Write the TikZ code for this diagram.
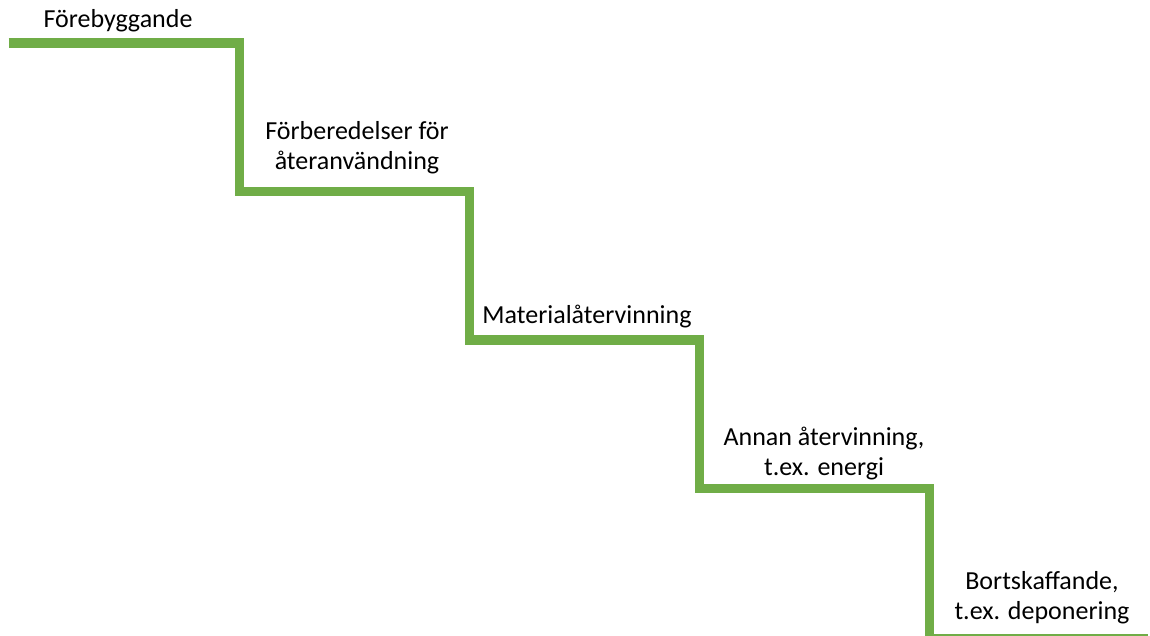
\documentclass[tikz,border=0pt]{standalone}
\usepackage{fontspec}
\setmainfont{Carlito}
\definecolor{trappgron}{RGB}{112,173,71}

\begin{document}
\begin{tikzpicture}[x=1pt, y=-1pt,
  trappa/.style={line width=9.5pt, trappgron},
  etikett/.style={font=\fontsize{26}{30}\selectfont, align=center, anchor=base, inner sep=0pt}]
  % parametrar (ett steg = bredd x höjd)
  \def\stegB{230}
  \def\stegH{148.5}

  \useasboundingbox (0,0) rectangle (1150,635);

  % 1. trappans hörn
  \coordinate (start) at (8.5, 43);
  \foreach \k in {1,...,3}
    \coordinate (k\k) at ({239.5+\stegB*(\k-1)}, {43+\stegH*\k});
  \coordinate (k4) at (929.5, 638.5); % sista steget, nästan utanför bilden
  \coordinate (slut) at (1148, 638.5);

  % 2. trappan
  \draw[trappa] (start) \foreach \k in {1,...,4} { -| (k\k) } -- (slut);

  % 3. texter på varje steg (base = sista radens baslinje)
  \node[etikett] (forebygg) at (118, 27.5) {Förebyggande};
  \node[etikett] (forbered) at (357, 169) {Förberedelser för\\återanvändning};
  \node[etikett] (material) at (587, 323) {Materialåtervinning};
  \node[etikett] (annan)    at (824, 475) {Annan återvinning,\\t.ex. energi};
  \node[etikett] (bortskaff) at (1042, 619) {Bortskaffande,\\t.ex. deponering};
\end{tikzpicture}
\end{document}
